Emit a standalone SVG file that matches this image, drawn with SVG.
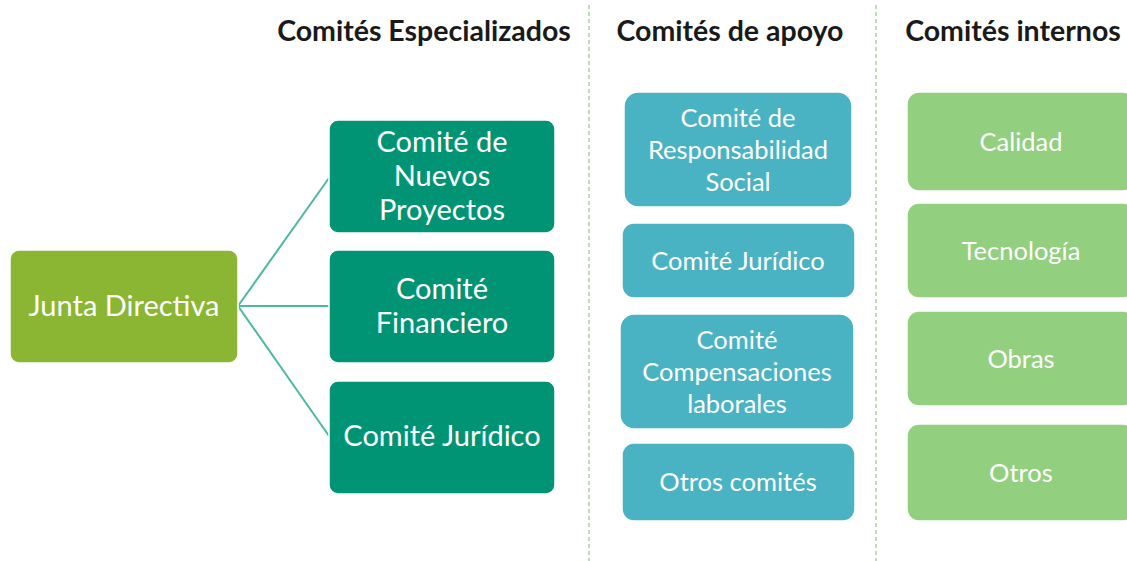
<svg xmlns="http://www.w3.org/2000/svg" width="1127" height="561" viewBox="0 0 1127 561">
<style>
.hdr{font-family:Lato,"Liberation Sans",sans-serif;font-weight:bold;font-size:28.5px;fill:#1a1a1a;text-anchor:middle}
.t{font-family:Lato,"Liberation Sans",sans-serif;fill:#ffffff;text-anchor:middle}
.big{font-size:29px}
.sm{font-size:25.5px}
.box{stroke:#ffffff;stroke-width:1.5}
.jd{fill:#8BB634}
.esp{fill:#009474}
.apo{fill:#4AB3C3}
.int{fill:#92CF7E}
.div{stroke:#A9D39A;stroke-width:1.5;stroke-dasharray:4 3;fill:none}
.con{stroke:#4DB8A0;stroke-width:2;fill:none}
</style>
<rect width="1127" height="561" fill="#ffffff"/>
<g id="dividers">
<line class="div" x1="589" y1="5" x2="589" y2="561"/>
<line class="div" x1="876" y1="5" x2="876" y2="561"/>
</g>
<g id="headers">
<text class="hdr" x="424" y="41">Comités Especializados</text>
<text class="hdr" x="730" y="41">Comités de apoyo</text>
<text class="hdr" x="1013" y="41">Comités internos</text>
</g>
<g id="connectors">
<line class="con" x1="238" y1="306" x2="329" y2="178"/>
<line class="con" x1="238" y1="306" x2="329" y2="306"/>
<line class="con" x1="238" y1="306" x2="329" y2="436"/>
</g>
<g id="junta">
<rect class="box jd" x="10" y="250" width="228" height="113" rx="9"/>
<text class="t big" x="124" y="316">Junta Directiva</text>
</g>
<g id="nuevos">
<rect class="box esp" x="329" y="120" width="226" height="113" rx="9"/>
<text class="t big" x="442" y="152">Comité de</text>
<text class="t big" x="442" y="186">Nuevos</text>
<text class="t big" x="442" y="220">Proyectos</text>
</g>
<g id="financiero">
<rect class="box esp" x="329" y="250" width="226" height="113" rx="9"/>
<text class="t big" x="442" y="299">Comité</text>
<text class="t big" x="442" y="333">Financiero</text>
</g>
<g id="juridico-esp">
<rect class="box esp" x="329" y="381" width="226" height="113" rx="9"/>
<text class="t big" x="442" y="446">Comité Jurídico</text>
</g>
<g id="responsabilidad">
<rect class="box apo" x="624" y="92" width="228" height="115" rx="14"/>
<text class="t sm" x="738" y="127">Comité de</text>
<text class="t sm" x="738" y="159">Responsabilidad</text>
<text class="t sm" x="738" y="191">Social</text>
</g>
<g id="juridico-apo">
<rect class="box apo" x="622" y="223" width="233" height="75" rx="12"/>
<text class="t sm" x="738" y="270">Comité Jurídico</text>
</g>
<g id="compensaciones">
<rect class="box apo" x="620" y="314" width="234" height="115" rx="14"/>
<text class="t sm" x="737" y="349">Comité</text>
<text class="t sm" x="737" y="381">Compensaciones</text>
<text class="t sm" x="737" y="413">laborales</text>
</g>
<g id="otros-comites">
<rect class="box apo" x="622" y="443" width="233" height="78" rx="12"/>
<text class="t sm" x="738" y="491">Otros comités</text>
</g>
<g id="calidad">
<rect class="box int" x="907" y="92" width="228" height="99" rx="12"/>
<text class="t sm" x="1021" y="151">Calidad</text>
</g>
<g id="tecnologia">
<rect class="box int" x="907" y="203" width="228" height="95" rx="12"/>
<text class="t sm" x="1021" y="260">Tecnología</text>
</g>
<g id="obras">
<rect class="box int" x="907" y="311" width="228" height="95" rx="12"/>
<text class="t sm" x="1021" y="368">Obras</text>
</g>
<g id="otros">
<rect class="box int" x="907" y="424" width="228" height="97" rx="12"/>
<text class="t sm" x="1021" y="482">Otros</text>
</g>
</svg>
